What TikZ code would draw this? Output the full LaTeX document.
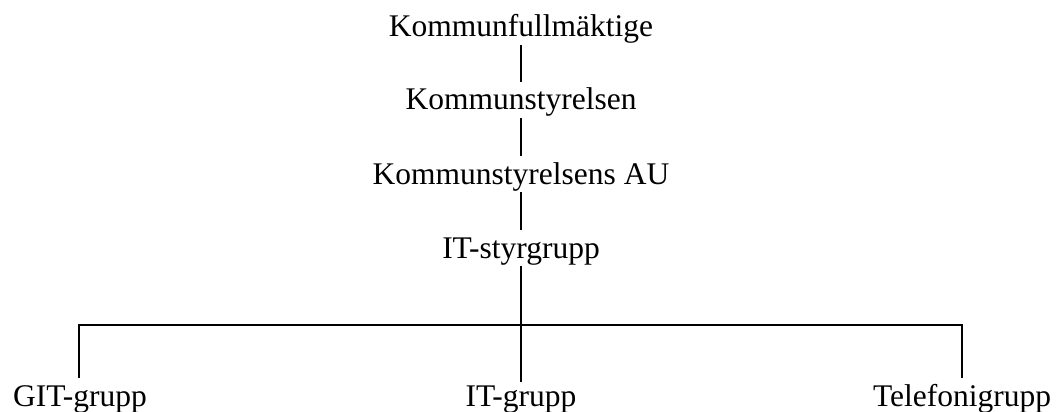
\documentclass[tikz,border=0pt]{standalone}
\usepackage{fontspec}
\setmainfont{Liberation Serif}
\usepackage{tikz}
\usetikzlibrary{positioning}

\begin{document}
\begin{tikzpicture}[x=1pt,y=-1pt,
  unit/.style={inner sep=0pt,text height=21pt,text depth=1pt,outer ysep=7pt,font=\fontsize{31.5}{36}\selectfont},
  link/.style={line width=2.8pt}]
\useasboundingbox (0,0) rectangle (1060,412);
\node[unit,anchor=base] (kf) at (521,37) {Kommunfullmäktige};
\node[unit,anchor=base] (ks) at (521,110) {Kommunstyrelsen};
\node[unit,anchor=base] (au) at (521,184) {Kommunstyrelsens AU};
\node[unit,anchor=base] (its) at (521,258) {IT-styrgrupp};
\node[unit,anchor=base] (git) at (80,406) {GIT-grupp};
\node[unit,anchor=base] (itg) at (521,406) {IT-grupp};
\node[unit,anchor=base] (tel) at (962,406) {Telefonigrupp};
\coordinate (fork) at (521,325);
\draw[link] (kf) -- (ks);
\draw[link] (ks) -- (au);
\draw[link] (au) -- (its);
\draw[link] (its) -- (fork);
\draw[link] (fork) -- ([yshift=-4pt]itg.north);
\draw[link] ([xshift=-1pt]git.north) |- (fork) -| (tel.north);
\end{tikzpicture}
\end{document}
